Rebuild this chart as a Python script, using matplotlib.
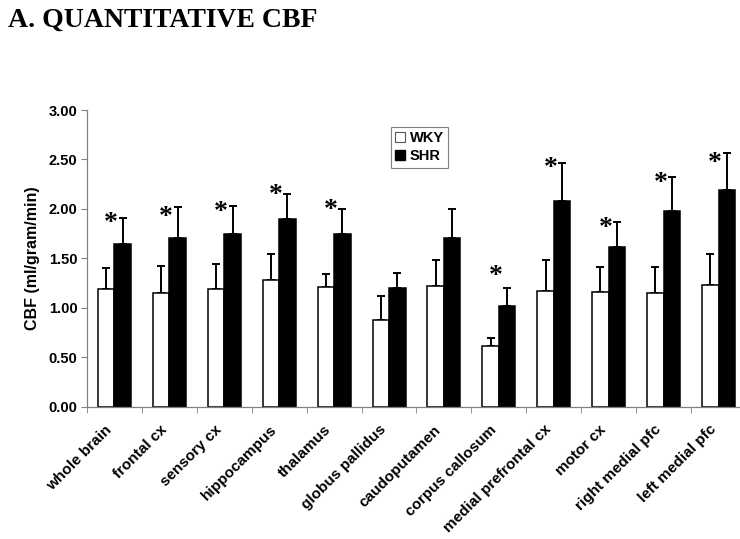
import matplotlib
matplotlib.use("Agg")
import matplotlib.pyplot as plt
import numpy as np
from matplotlib.patches import Patch
from matplotlib.ticker import FixedLocator, FormatStrFormatter

categories = ["whole brain", "frontal cx", "sensory cx", "hippocampus", "thalamus",
              "globus pallidus", "caudoputamen", "corpus callosum",
              "medial prefrontal cx", "motor cx", "right medial pfc", "left medial pfc"]
wky_mean = [1.19, 1.15, 1.19, 1.28, 1.21, 0.88, 1.22, 0.61, 1.17, 1.16, 1.15, 1.23]
wky_err = [0.21, 0.27, 0.25, 0.26, 0.13, 0.24, 0.26, 0.08, 0.31, 0.25, 0.26, 0.31]
shr_mean = [1.65, 1.71, 1.75, 1.90, 1.75, 1.20, 1.71, 1.02, 2.08, 1.61, 1.98, 2.19]
shr_err = [0.26, 0.31, 0.28, 0.25, 0.25, 0.15, 0.29, 0.18, 0.38, 0.26, 0.34, 0.38]
significant = [True, True, True, True, True, False, False, True, True, True, True, True]
star_y = [1.92, 1.98, 2.03, 2.20, 2.05, None, None, 1.38, 2.47, 1.87, 2.32, 2.53]
yticks = [0.0, 0.5, 1.0, 1.5, 2.0, 2.5, 3.0]

W, H = 740, 539
fig = plt.figure(figsize=(W / 100, H / 100), dpi=100)
left, right, bottom, top = 87, 746, 406.7, 110
ax = fig.add_axes([left / W, 1 - bottom / H, (right - left) / W, (bottom - top) / H])

x = np.arange(len(categories))
bw = 0.3
ax.bar(x - bw / 2, wky_mean, width=bw, color="white", edgecolor="black", linewidth=1.1, zorder=2)
ax.bar(x + bw / 2, shr_mean, width=bw, color="black", edgecolor="black", linewidth=1.1, zorder=2)
zeros = np.zeros(len(categories))
ax.errorbar(x - bw / 2, wky_mean, yerr=[zeros, wky_err], fmt="none", ecolor="black",
            elinewidth=1.4, capsize=3, capthick=1.4, zorder=1)
ax.errorbar(x + bw / 2, shr_mean, yerr=[zeros, shr_err], fmt="none", ecolor="black",
            elinewidth=1.4, capsize=3, capthick=1.4, zorder=1)

fs_star = 20
for xi, sig, sy in zip(x, significant, star_y):
    if sig:
        ax.annotate("*", xy=(xi - 0.06, sy), xytext=(0, -0.47 * fs_star),
                    textcoords="offset points", ha="center", va="baseline",
                    fontsize=fs_star, fontweight="bold", family="Liberation Serif")

ax.set_xlim(-0.5, len(categories) - 0.5)
ax.set_ylim(0, 3.0)
ax.set_yticks(yticks)
ax.yaxis.set_major_formatter(FormatStrFormatter("%.2f"))
# label anchors sit slightly left of the group centre, as in the original
ax.set_xticks(x - 0.09)
ax.set_xticklabels(categories, rotation=45, ha="right", va="center", rotation_mode="anchor",
                   fontsize=11, fontweight="bold", family="Liberation Sans")
ax.xaxis.set_minor_locator(FixedLocator(np.arange(len(categories) + 1) - 0.5))
ax.tick_params(axis="x", which="major", length=0, pad=15)
ax.tick_params(axis="x", which="minor", length=4, color="#808080", direction="out")
ax.tick_params(axis="y", length=4, color="#808080", direction="out", pad=3)
for lab in ax.get_yticklabels():
    lab.set_fontsize(10.5)
    lab.set_fontweight("bold")
    lab.set_family("Liberation Sans")

for s in ["top", "right"]:
    ax.spines[s].set_visible(False)
for s in ["left", "bottom"]:
    ax.spines[s].set_color("#808080")
    ax.spines[s].set_linewidth(0.9)

ax.set_ylabel("CBF (ml/gram/min)", fontsize=11.5, fontweight="bold", family="Liberation Sans",
              labelpad=6)

handles = [Patch(facecolor="white", edgecolor="#555555", linewidth=0.8, label="WKY"),
           Patch(facecolor="black", edgecolor="black", label="SHR")]
leg = ax.legend(handles=handles, loc="upper left", bbox_to_anchor=(0.461, 0.944),
                frameon=True, fancybox=False, edgecolor="#808080", framealpha=1,
                prop={"family": "Liberation Sans", "weight": "bold", "size": 10.5},
                handlelength=0.7, handleheight=0.7, handletextpad=0.3, borderpad=0.3,
                labelspacing=0.3, borderaxespad=0)
leg.get_frame().set_linewidth(0.8)

fig.text(8 / W, 1 - 8 / H, "A. QUANTITATIVE CBF", ha="left", va="top", fontsize=20,
         fontweight="bold", family="Liberation Serif")

fig.savefig("out.png", dpi=100)
